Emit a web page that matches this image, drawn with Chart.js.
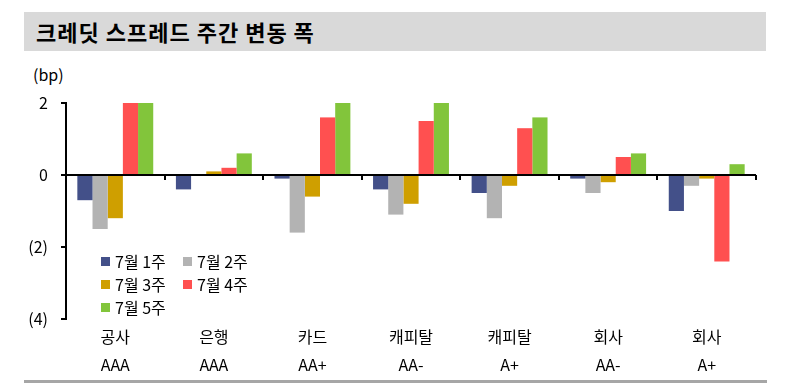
<!DOCTYPE html>
<html>
<head>
<meta charset="utf-8">
<script src="https://cdn.jsdelivr.net/npm/chart.js@4.4.1/dist/chart.umd.min.js"></script>
<style>
  html,body{margin:0;padding:0;background:#fff;}
  body{width:790px;height:384px;position:relative;overflow:hidden;font-family:'Noto Sans CJK KR','Noto Sans',sans-serif;}
  #band{position:absolute;left:24px;top:12px;width:742px;height:39px;background:#d9d9d9;}
  #title{position:absolute;left:36px;top:12px;height:39px;line-height:39px;font-size:22px;letter-spacing:1px;font-weight:bold;color:#000;white-space:nowrap;}
  #unit{position:absolute;left:33px;top:62px;font-size:16px;color:#000;}
  #chartBox{position:absolute;left:0;top:0;width:790px;height:384px;}
  #legend{position:absolute;left:101px;top:250px;width:170px;}
  .li{position:absolute;display:flex;align-items:center;font-size:16px;color:#000;white-space:nowrap;height:22px;}
  .li span.b{display:inline-block;width:9px;height:9px;margin-right:5px;}
  #bottomLine{position:absolute;left:24px;top:380px;width:743px;height:3px;background:#a6a6a6;}
</style>
</head>
<body>
<div id="band"></div>
<div id="title">크레딧 스프레드 주간 변동 폭</div>
<div id="unit">(bp)</div>
<div id="chartBox"><canvas id="c" width="790" height="384"></canvas></div>
<div id="legend"></div>
<div id="bottomLine"></div>
<script>
const categories = [["공사","AAA"],["은행","AAA"],["카드","AA+"],["캐피탈","AA-"],["캐피탈","A+"],["회사","AA-"],["회사","A+"]];
const seriesNames = ["7월 1주","7월 2주","7월 3주","7월 4주","7월 5주"];
const week1 = [-0.7,-0.4,-0.1,-0.4,-0.5,-0.1,-1.0];
const week2 = [-1.5, 0.0,-1.6,-1.1,-1.2,-0.5,-0.3];
const week3 = [-1.2, 0.1,-0.6,-0.8,-0.3,-0.2,-0.1];
const week4 = [ 2.0, 0.2, 1.6, 1.5, 1.3, 0.5,-2.4];
const week5 = [ 2.0, 0.6, 2.0, 2.0, 1.6, 0.6, 0.3];
const yTicks = [-4,-2,0,2];
const colors = ["#435089","#b3b3b3","#cf9f00","#ff5050","#82c53b"];

const seriesValues = [week1,week2,week3,week4,week5];
const datasets = seriesNames.map((n,i)=>({label:n,data:seriesValues[i],backgroundColor:colors[i],borderWidth:0}));

const zeroAxis = {
  id:'zeroAxis',
  afterDatasetsDraw(chart){
    const {ctx, chartArea, scales:{x,y}} = chart;
    const y0 = Math.round(y.getPixelForValue(0));
    ctx.save();
    ctx.strokeStyle='#000';
    ctx.lineWidth=2;
    ctx.beginPath(); ctx.moveTo(chartArea.left,y0); ctx.lineTo(chartArea.right,y0); ctx.stroke();
    for(let i=1;i<=categories.length;i++){
      const px = Math.round(x.getPixelForValue(i-0.5));
      ctx.beginPath(); ctx.moveTo(px,y0); ctx.lineTo(px,y0+5); ctx.stroke();
    }
    ctx.restore();
  }
};

const fontFam = "'Noto Sans CJK KR','Noto Sans',sans-serif";
new Chart(document.getElementById('c'),{
  type:'bar',
  data:{labels:categories,datasets},
  plugins:[zeroAxis],
  options:{
    responsive:false,
    animation:false,
    events:[],
    layout:{padding:{left:0,right:34,top:103,bottom:0}},
    plugins:{legend:{display:false},tooltip:{enabled:false}},
    datasets:{bar:{categoryPercentage:0.77,barPercentage:1}},
    scales:{
      x:{
        grid:{display:false,drawTicks:false},
        border:{display:false},
        ticks:{color:'#000',font:{family:fontFam,size:16,lineHeight:1.75},padding:4,maxRotation:0,autoSkip:false},
        afterFit(s){s.height=65;}
      },
      y:{
        min:-4,max:2,
        afterBuildTicks(s){s.ticks=yTicks.map(v=>({value:v}));},
        grid:{drawOnChartArea:false,drawTicks:true,tickLength:5,color:'#000',lineWidth:2},
        border:{display:true,color:'#000',width:2},
        ticks:{color:'#000',font:{family:fontFam,size:16},padding:13,
          callback:v=> v<0 ? '('+Math.abs(v)+')' : String(v)},
        afterFit(s){s.width=66;}
      }
    }
  }
});

// HTML legend built from series
const leg = document.getElementById('legend');
const pos = [[0,0],[82,0],[0,23],[82,23],[0,46]];
seriesNames.forEach((n,i)=>{
  const d=document.createElement('div');
  d.className='li';
  d.style.left=pos[i][0]+'px';
  d.style.top=pos[i][1]+'px';
  d.innerHTML='<span class="b" style="background:'+colors[i]+'"></span>'+n;
  leg.appendChild(d);
});
</script>
</body>
</html>
